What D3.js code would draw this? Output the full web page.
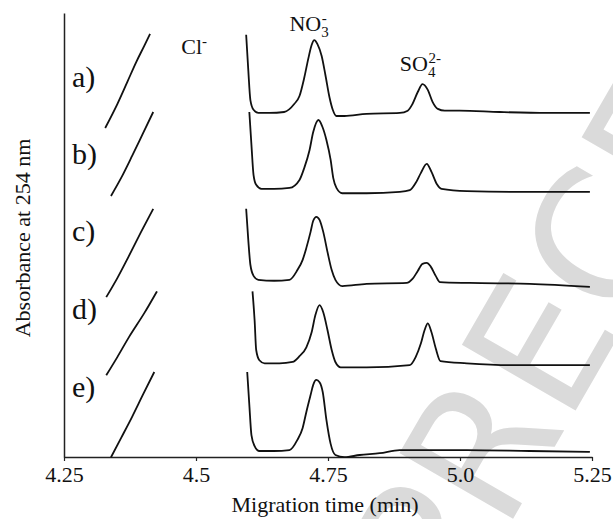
<!DOCTYPE html>
<html>
<head>
<meta charset="utf-8">
<script src="https://cdn.jsdelivr.net/npm/d3@7"></script>
<style>
  body { margin: 0; background: #fff; }
  text { font-family: "Liberation Serif", "Times New Roman", serif; fill: #111; }
</style>
</head>
<body>
<div id="wrapper"></div>
<script>
// electropherograms a)-e), [time (min), signal above the trace's own baseline]
// null = gap where the off-scale Cl- peak is cut out
const traceA = [
  [4.328,-3.4],[4.351,2.0],[4.370,7.0],[4.387,11.5],[4.402,15.1],[4.413,17.8],
  null,
  [4.595,17.6],[4.599,9.7],[4.603,2.9],[4.609,0.7],[4.618,0],[4.639,0],[4.667,0.2],[4.686,2.0],
  [4.696,3.8],[4.705,7.9],[4.713,12.4],[4.719,15.3],[4.724,16.4],[4.730,15.5],[4.738,12.8],
  [4.745,8.6],[4.753,3.4],[4.759,0.7],[4.766,-0.7],[4.781,-0.7],[4.823,-0.2],[4.886,0],
  [4.901,0.5],[4.910,2.0],[4.920,4.7],[4.929,6.5],[4.939,5.2],[4.948,2.5],[4.958,0.9],
  [4.971,0.5],[4.999,0.5],[5.075,0.2],[5.165,0],[5.246,0]
]
const traceB = [
  [4.339,-1.1],[4.358,2.9],[4.379,7.9],[4.400,13.1],[4.419,17.8],
  null,
  [4.601,17.8],[4.605,10.4],[4.609,3.6],[4.614,1.4],[4.624,0.5],[4.648,0.5],[4.677,0.7],
  [4.696,2.5],[4.705,5.2],[4.715,9.2],[4.722,13.3],[4.732,16.0],[4.739,14.6],[4.747,11.5],
  [4.755,7.0],[4.760,2.9],[4.766,0.7],[4.777,-0.5],[4.823,-0.5],[4.886,-0.2],[4.905,0.2],
  [4.916,1.8],[4.926,4.1],[4.937,6.1],[4.946,4.3],[4.956,1.6],[4.965,0.5],[5.013,0],
  [5.138,-0.2],[5.246,-0.2]
]
const traceC = [
  [4.330,-3.2],[4.351,1.1],[4.373,6.1],[4.396,11.5],[4.419,16.7],
  null,
  [4.595,16.7],[4.599,9.7],[4.603,4.1],[4.609,1.6],[4.618,0.7],[4.648,0.5],[4.677,0.7],
  [4.692,2.9],[4.702,5.2],[4.709,7.9],[4.717,11.5],[4.722,14.0],[4.728,14.9],[4.734,14.2],
  [4.741,11.5],[4.749,7.0],[4.757,2.9],[4.764,0.7],[4.777,-0.7],[4.823,-0.2],[4.899,0],
  [4.910,0.9],[4.920,2.7],[4.929,4.3],[4.937,4.5],[4.944,3.8],[4.954,1.6],[4.962,0.2],
  [5.018,0],[5.132,-0.2],[5.246,-0.9]
]
const traceD = [
  [4.330,-2.5],[4.351,1.6],[4.373,6.1],[4.402,11.5],[4.426,16.4],
  null,
  [4.607,16.4],[4.611,9.9],[4.614,3.2],[4.620,0.9],[4.630,0.2],[4.658,0.2],[4.683,0.5],
  [4.696,1.8],[4.709,3.8],[4.719,7.2],[4.726,11.0],[4.734,13.3],[4.741,11.7],[4.749,7.7],
  [4.757,3.2],[4.764,0.5],[4.774,-0.7],[4.823,-0.7],[4.905,-0.2],[4.916,1.6],[4.926,4.7],
  [4.933,7.7],[4.939,9.2],[4.946,7.2],[4.954,3.6],[4.963,0.7],[5.013,0.2],[5.094,-0.2],
  [5.246,-0.2]
]
const traceE = [
  [4.339,-1.4],[4.358,2.9],[4.379,7.7],[4.400,12.8],[4.421,17.8],
  null,
  [4.597,17.8],[4.601,10.4],[4.605,3.6],[4.611,1.1],[4.620,0],[4.648,0],[4.677,0.2],
  [4.692,2.5],[4.702,5.2],[4.709,8.8],[4.717,12.6],[4.722,14.9],[4.728,16.0],[4.734,15.5],
  [4.740,13.3],[4.747,7.0],[4.755,1.6],[4.764,-0.9],[4.781,-1.4],[4.810,-0.9],[4.848,-0.5],
  [4.886,0.2],[5.013,0.2],[5.132,0],[5.246,-0.2]
]

const traces = [traceA, traceB, traceC, traceD, traceE]
const offsets = [77.5, 59.9, 39.2, 20.9, 1.35]   // stacking offset of each trace
const traceLabels = ["a)", "b)", "c)", "d)", "e)"]
const labelLevels = [83.3, 66.0, 48.6, 31.1, 13.5]

const xTicks = [4.25, 4.5, 4.75, 5.0, 5.25]
const xTickLabels = ["4.25", "4.5", "4.75", "5.0", "5.25"]

// ion annotations: [time, level]
const clPos = [4.472, 90.8]
const no3Pos = [4.677, 95.9]
const so4Pos = [4.886, 86.9]

const dimensions = {
  width: 613,
  height: 519,
  margin: { top: 13, right: 21, bottom: 62, left: 64 },
}
dimensions.boundedWidth = dimensions.width - dimensions.margin.left - dimensions.margin.right
dimensions.boundedHeight = dimensions.height - dimensions.margin.top - dimensions.margin.bottom

const svg = d3.select("#wrapper")
  .append("svg")
  .attr("width", dimensions.width)
  .attr("height", dimensions.height)

svg.append("rect")
  .attr("width", dimensions.width)
  .attr("height", dimensions.height)
  .attr("fill", "#fff")

// faint scanned watermark behind the plot
svg.append("text")
  .attr("transform", "translate(450,628) rotate(-60)")
  .style("font-family", "'DejaVu Sans', sans-serif")
  .style("font-size", "180px")
  .style("fill", "#dadada")
  .text("PRECE")

const bounds = svg.append("g")
  .attr("transform", `translate(${dimensions.margin.left},${dimensions.margin.top})`)

const xScale = d3.scaleLinear()
  .domain([4.25, 5.25])
  .range([0, dimensions.boundedWidth])

const yScale = d3.scaleLinear()
  .domain([0, 100])
  .range([dimensions.boundedHeight, 0])

// axes
const xAxis = bounds.append("g")
  .attr("transform", `translate(0,${dimensions.boundedHeight})`)
  .call(d3.axisBottom(xScale)
    .tickValues(xTicks)
    .tickFormat((d, i) => xTickLabels[i])
    .tickSizeInner(4)
    .tickSizeOuter(0))
xAxis.select(".domain").attr("stroke", "#222").attr("stroke-width", 1.5)
xAxis.selectAll(".tick line").attr("stroke", "#222").attr("stroke-width", 1.2)
xAxis.selectAll(".tick text")
  .attr("y", 25)
  .attr("dy", null)
  .style("font-size", "22px")
  .style("font-family", "'Liberation Serif', serif")
  .attr("fill", "#111")

const yAxis = bounds.append("g")
  .call(d3.axisLeft(yScale).tickValues([]).tickSizeOuter(0))
yAxis.select(".domain").attr("stroke", "#222").attr("stroke-width", 1.5)

svg.append("text")
  .attr("x", dimensions.margin.left + dimensions.boundedWidth / 2 - 3)
  .attr("y", 512)
  .attr("text-anchor", "middle")
  .style("font-size", "22px")
  .text("Migration time (min)")

svg.append("text")
  .attr("transform", `translate(30,${238}) rotate(-90)`)
  .attr("text-anchor", "middle")
  .style("font-size", "22px")
  .text("Absorbance at 254 nm")

// traces
const lineGenerator = (offset) => d3.line()
  .defined(d => d !== null)
  .x(d => xScale(d[0]))
  .y(d => yScale(d[1] + offset))
  .curve(d3.curveMonotoneX)

traces.forEach((trace, i) => {
  bounds.append("path")
    .attr("d", lineGenerator(offsets[i])(trace))
    .attr("fill", "none")
    .attr("stroke", "#111")
    .attr("stroke-width", 1.8)
    .attr("stroke-linejoin", "round")
})

bounds.selectAll(".trace-label")
  .data(traceLabels)
  .join("text")
  .attr("class", "trace-label")
  .attr("x", xScale(4.265))
  .attr("y", (d, i) => yScale(labelLevels[i]))
  .style("font-size", "30px")
  .text(d => d)

// ion labels
const cl = bounds.append("text")
  .attr("x", xScale(clPos[0]))
  .attr("y", yScale(clPos[1]))
  .style("font-size", "22px")
cl.append("tspan").text("Cl")
cl.append("tspan").attr("dy", -8).style("font-size", "15px").text("-")

const no3 = bounds.append("text")
  .attr("x", xScale(no3Pos[0]))
  .attr("y", yScale(no3Pos[1]))
  .style("font-size", "22px")
no3.append("tspan").text("NO")
no3.append("tspan").attr("dy", 6).style("font-size", "15px").text("3")
no3.append("tspan").attr("dx", -7).attr("dy", -14).style("font-size", "15px").text("-")

const so4 = bounds.append("text")
  .attr("x", xScale(so4Pos[0]))
  .attr("y", yScale(so4Pos[1]))
  .style("font-size", "22px")
so4.append("tspan").text("SO")
so4.append("tspan").attr("dy", 6).style("font-size", "15px").text("4")
so4.append("tspan").attr("dx", -7).attr("dy", -14).style("font-size", "15px").text("2-")
</script>
</body>
</html>
